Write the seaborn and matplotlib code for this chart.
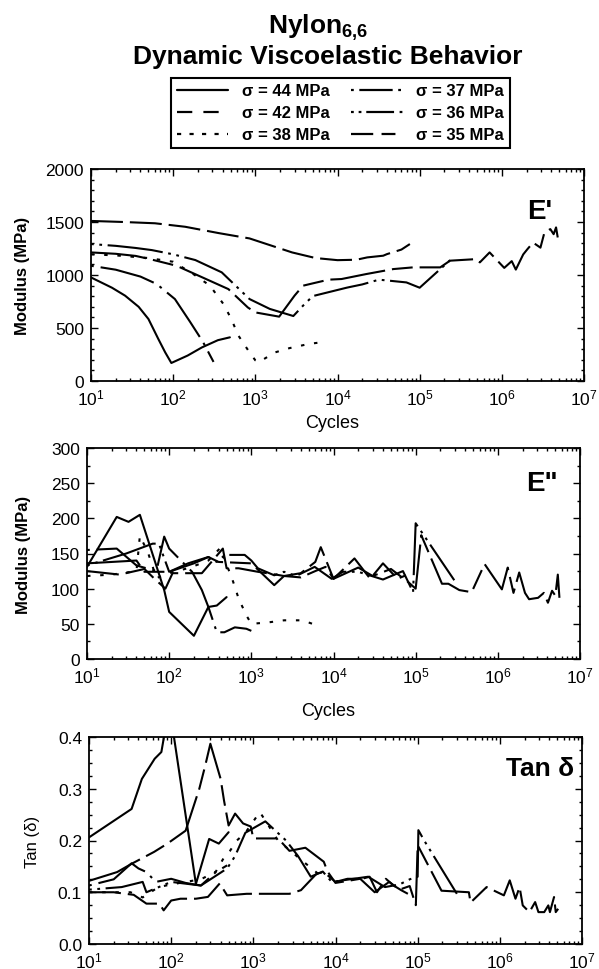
import numpy as np
import seaborn as sns
import matplotlib.pyplot as plt
from matplotlib.lines import Line2D
from matplotlib.ticker import FixedLocator, MultipleLocator, NullFormatter, FormatStrFormatter, LogFormatterSciNotation

# --- datos (ciclos, valor) ---
labels = ["σ = 44 MPa", "σ = 42 MPa", "σ = 38 MPa", "σ = 37 MPa", "σ = 36 MPa", "σ = 35 MPa"]

# E' (MPa)
ep44_x = [10, 18, 26, 38, 50, 66, 80, 95, 150, 224, 350, 490]
ep44_y = [977, 880, 805, 700, 585, 396, 270, 170, 240, 317, 385, 412]
ep42_x = [10, 25, 60, 140, 360, 850, 2800, 5400, 10000, 17000, 23000, 36000, 40000, 60000, 76000]
ep42_y = [1510, 1500, 1488, 1455, 1395, 1345, 1213, 1160, 1140, 1144, 1166, 1182, 1197, 1240, 1292]
ep38_x = [10, 20, 50, 100, 175, 280, 410, 510, 620, 850, 1000, 1100, 1740, 2600, 4500, 6800]
ep38_y = [1195, 1185, 1160, 1125, 1010, 900, 725, 585, 430, 270, 195, 178, 270, 310, 350, 368]
ep37_x = [10, 20, 40, 63, 105, 160, 230, 310]
ep37_y = [1087, 1050, 985, 915, 773, 560, 370, 180]
ep36_x = [10, 20, 35, 55, 100, 186, 390, 850, 1500, 2900, 3800, 5000, 12900, 14000, 20000, 32000, 69000, 100000, 235000]
ep36_y = [1292, 1275, 1255, 1235, 1195, 1141, 1025, 773, 680, 613, 710, 801, 880, 886, 911, 956, 930, 880, 1140]
ep35_x = [10, 20, 35, 52, 110, 470, 810, 1000, 1950, 3000, 3800, 5000, 7800, 11200, 22400, 47900, 83000,
          178000, 234000, 490000, 540000, 710000, 1070000, 1320000, 1480000, 1820000, 2040000, 2400000,
          2950000, 3300000, 3890000, 4270000, 4570000, 4790000]
ep35_y = [1213, 1200, 1180, 1150, 1087, 867, 694, 647, 607, 805, 899, 921, 956, 962, 1009, 1056, 1072,
          1072, 1135, 1150, 1119, 1213, 1067, 1131, 1051, 1194, 1242, 1306, 1258, 1401, 1433, 1385, 1449, 1354]

# E'' (MPa)
epp44_x = [10, 23, 32, 44, 87, 100, 200, 300, 380, 500]
epp44_y = [131, 202, 195, 205, 98, 67, 33, 74, 76, 88]
epp42_x = [10, 25, 50, 65, 90, 110, 250, 450, 500, 700, 1200, 2000, 2500, 4000, 6000, 7000, 10000,
           18000, 28000, 40000, 60000, 76000]
epp42_y = [125, 120, 128, 115, 100, 122, 122, 157, 129, 129, 124, 120, 118, 122, 138, 159, 114,
           143, 114, 136, 114, 119]
epp38_x = [10, 20, 40, 44, 55, 70, 100, 180, 300, 420, 600, 700, 870, 1000, 1600, 2500, 4200, 6200]
epp38_y = [118, 120, 125, 175, 152, 115, 122, 130, 140, 158, 110, 86, 62, 50, 52, 55, 55, 48]
epp37_x = [10, 23, 40, 70, 87, 100, 190, 250, 300, 380, 470, 630, 870, 1000]
epp37_y = [155, 157, 133, 125, 174, 157, 124, 98, 74, 38, 38, 45, 43, 40]
epp36_x = [10, 30, 63, 75, 100, 170, 300, 380, 480, 830, 1000, 1200, 1900, 2500, 3500, 5900, 9500,
           13000, 20000, 40000, 70000, 93000, 100000, 295000]
epp36_y = [133, 150, 164, 164, 124, 136, 145, 138, 148, 148, 140, 129, 119, 124, 118, 131, 114,
           124, 124, 113, 125, 95, 193, 112]
epp35_x = [10, 20, 40, 50, 100, 200, 300, 400, 1000, 1900, 2500, 4000, 6000, 8000, 10000, 20000, 30000,
           50000, 80000, 100000, 117000, 209000, 250000, 340000, 480000, 690000, 1120000, 1320000,
           1550000, 1820000, 2140000, 2400000, 3090000, 3630000, 4070000, 4570000, 5010000, 5370000, 5620000]
epp35_y = [136, 138, 140, 124, 124, 136, 145, 138, 136, 105, 118, 116, 125, 131, 114, 130, 118,
           128, 110, 100, 176, 107, 107, 98, 95, 135, 99, 130,
           94, 123, 94, 85, 87, 94, 80, 97, 90, 120, 87]

# Tan delta
tan44_x = [10, 33, 44, 63, 76, 95, 200, 290, 380, 500]
tan44_y = [0.206, 0.261, 0.319, 0.358, 0.371, 0.46, 0.116, 0.203, 0.194, 0.216]
tan42_x = [10, 20, 35, 50, 72, 81, 100, 130, 200, 280, 390, 480, 830, 2750, 3800, 5900, 7200, 10000,
           14000, 21000, 26000, 32000, 41000, 51000, 63000, 76000]
tan42_y = [0.100, 0.100, 0.095, 0.078, 0.078, 0.065, 0.084, 0.0875, 0.0875, 0.091, 0.117, 0.094, 0.097,
           0.097, 0.104, 0.136, 0.139, 0.120, 0.126, 0.126, 0.130, 0.100, 0.126, 0.113, 0.104, 0.097]
tan38_x = [10, 20, 32, 45, 70, 100, 150, 230, 350, 450, 520, 630, 800, 1200, 2000, 4000, 6800]
tan38_y = [0.100, 0.100, 0.100, 0.090, 0.110, 0.115, 0.120, 0.125, 0.140, 0.170, 0.180, 0.200, 0.215,
           0.255, 0.200, 0.160, 0.130]
tan37_x = [10, 20, 33, 40, 50, 65, 100, 150, 230, 350, 480]
tan37_y = [0.113, 0.125, 0.156, 0.146, 0.139, 0.120, 0.126, 0.118, 0.113, 0.139, 0.152]
tan36_x = [10, 25, 45, 50, 100, 230, 480, 600, 800, 1400, 2500, 3500, 5000, 7000, 9000, 15000, 25000,
           40000, 60000, 80000, 100000, 102000, 120000, 300000]
tan36_y = [0.105, 0.110, 0.120, 0.100, 0.120, 0.113, 0.146, 0.170, 0.215, 0.237, 0.200, 0.170, 0.130,
           0.140, 0.120, 0.125, 0.130, 0.110, 0.115, 0.125, 0.130, 0.220, 0.200, 0.097]
tan35_x = [10, 22, 33, 62, 90, 150, 220, 260, 300, 400, 440, 500, 600, 750, 930, 1000, 2000, 2750, 4300,
           7200, 8000, 10000, 20000, 30000, 45000, 60000, 80000, 95000, 100000, 195000, 420000, 440000,
           690000, 1120000, 1320000, 1550000, 1740000, 1900000, 2290000, 2690000, 2950000, 3470000,
           3890000, 4070000, 4570000, 4790000, 5130000]
tan35_y = [0.122, 0.139, 0.155, 0.178, 0.194, 0.219, 0.300, 0.345, 0.387, 0.319, 0.277, 0.229, 0.252,
           0.233, 0.227, 0.204, 0.204, 0.180, 0.186, 0.159, 0.140, 0.118, 0.126, 0.100, 0.120, 0.105,
           0.112, 0.075, 0.191, 0.103, 0.100, 0.080, 0.110, 0.094, 0.123, 0.0875, 0.110, 0.0746, 0.0616,
           0.081, 0.0616, 0.0616, 0.0746, 0.0616, 0.0908, 0.0616, 0.068]

# ticks del eje de ciclos
decades = [1e1, 1e2, 1e3, 1e4, 1e5, 1e6, 1e7]
minor_cycles = [m * d for d in decades[:-1] for m in range(2, 10)]

# --- estilos de linea (puntos) ---
PLOT_LS = ["-", (0, (23, 5)), (0, (2.5, 7)), (0, (2, 5, 40, 5)), (0, (2, 4, 2, 4, 40, 4)), (0, (40, 5, 15, 5))]
LEG_LS = ["-", (0, (11, 8)), (0, (3, 6)), (0, (2, 4, 24, 4)), (0, (2, 3.5, 2, 3.5, 20, 4)), (0, (16, 6, 10, 6))]

sns.set_theme(style="ticks")
plt.rcParams["font.family"] = ["Liberation Sans", "DejaVu Sans"]
plt.rcParams["mathtext.fontset"] = "custom"
plt.rcParams["mathtext.rm"] = "Liberation Sans"
plt.rcParams["mathtext.bf"] = "Liberation Sans:bold"
plt.rcParams["mathtext.default"] = "regular"
plt.rcParams["lines.scale_dashes"] = False
for k in ["text.color", "axes.labelcolor", "xtick.color", "ytick.color", "axes.edgecolor"]:
    plt.rcParams[k] = "black"

fig = plt.figure(figsize=(5.99, 9.70), dpi=100)
W, H = 599.0, 970.0


def make_ax(left, top, bottom, right):
    return fig.add_axes([left / W, 1 - bottom / H, (right - left) / W, (bottom - top) / H])


ax1 = make_ax(91, 170, 382, 584)
ax2 = make_ax(87, 449, 660, 580)
ax3 = make_ax(89, 738, 945, 582)

panels = [
    (ax1, [(ep44_x, ep44_y), (ep42_x, ep42_y), (ep38_x, ep38_y), (ep37_x, ep37_y), (ep36_x, ep36_y), (ep35_x, ep35_y)]),
    (ax2, [(epp44_x, epp44_y), (epp42_x, epp42_y), (epp38_x, epp38_y), (epp37_x, epp37_y), (epp36_x, epp36_y), (epp35_x, epp35_y)]),
    (ax3, [(tan44_x, tan44_y), (tan42_x, tan42_y), (tan38_x, tan38_y), (tan37_x, tan37_y), (tan36_x, tan36_y), (tan35_x, tan35_y)]),
]

for ax, series in panels:
    for (xs, ys), ls in zip(series, PLOT_LS):
        sns.lineplot(x=xs, y=ys, ax=ax, color="black", linewidth=1.5, linestyle=ls,
                     sort=False, estimator=None, legend=False)
    ax.set_xscale("log")
    ax.set_xlim(10, 1e7)
    ax.xaxis.set_major_locator(FixedLocator(decades))
    ax.xaxis.set_major_formatter(LogFormatterSciNotation())
    ax.xaxis.set_minor_locator(FixedLocator(minor_cycles))
    ax.xaxis.set_minor_formatter(NullFormatter())
    ax.tick_params(which="both", direction="in", top=True, right=True, labelsize=12.5, width=1, colors="black")
    ax.tick_params(which="major", length=5, pad=5)
    ax.tick_params(which="minor", length=2.5)
    for sp in ax.spines.values():
        sp.set_linewidth(1.3)
        sp.set_color("black")
    ax.set_xlabel("")
    ax.set_ylabel("")

ax1.set_ylim(0, 2000)
ax1.yaxis.set_major_locator(MultipleLocator(500))
ax1.yaxis.set_minor_locator(MultipleLocator(100))
ax2.set_ylim(0, 300)
ax2.yaxis.set_major_locator(MultipleLocator(50))
ax2.yaxis.set_minor_locator(MultipleLocator(25))
ax3.set_ylim(0, 0.4)
ax3.yaxis.set_major_locator(MultipleLocator(0.1))
ax3.yaxis.set_minor_locator(MultipleLocator(0.025))
ax3.yaxis.set_major_formatter(FormatStrFormatter("%.1f"))

ax1.set_ylabel("Modulus (MPa)", fontsize=12, fontweight="bold")
ax2.set_ylabel("Modulus (MPa)", fontsize=12, fontweight="bold")
ax3.set_ylabel("Tan (δ)", fontsize=12)
ax1.yaxis.set_label_coords(-0.123, 0.5)
ax2.yaxis.set_label_coords(-0.113, 0.5)
ax3.yaxis.set_label_coords(-0.10, 0.5)
ax1.set_xlabel("Cycles", fontsize=13)
ax2.set_xlabel("Cycles", fontsize=13)
ax1.xaxis.set_label_coords(0.49, -0.155)
ax2.xaxis.set_label_coords(0.49, -0.205)

ax1.text(0.935, 0.80, "E'", transform=ax1.transAxes, ha="right", va="center", fontsize=20, fontweight="bold")
ax2.text(0.955, 0.835, 'E"', transform=ax2.transAxes, ha="right", va="center", fontsize=20, fontweight="bold")
ax3.text(0.985, 0.85, "Tan δ", transform=ax3.transAxes, ha="right", va="center", fontsize=19, fontweight="bold")

# titulo
fig.text(0.531, 1 - 28 / H, r"Nylon$_{\mathbf{6{,}6}}$", ha="center", va="center", fontsize=19, fontweight="bold")
fig.text(0.547, 1 - 57 / H, "Dynamic Viscoelastic Behavior", ha="center", va="center", fontsize=19, fontweight="bold")

# leyenda
handles = [Line2D([], [], color="black", linewidth=1.6, linestyle=ls) for ls in LEG_LS]
leg = fig.legend(handles, labels, loc="center", bbox_to_anchor=(0.568, 1 - 114 / H), ncol=2,
                 prop={"weight": "bold", "size": 12}, frameon=True, fancybox=False,
                 edgecolor="black", framealpha=1, handlelength=3.1, handletextpad=0.8,
                 columnspacing=1.3, labelspacing=0.42, borderpad=0.35)
leg.get_frame().set_linewidth(1.5)

fig.savefig("out.png", dpi=100)
